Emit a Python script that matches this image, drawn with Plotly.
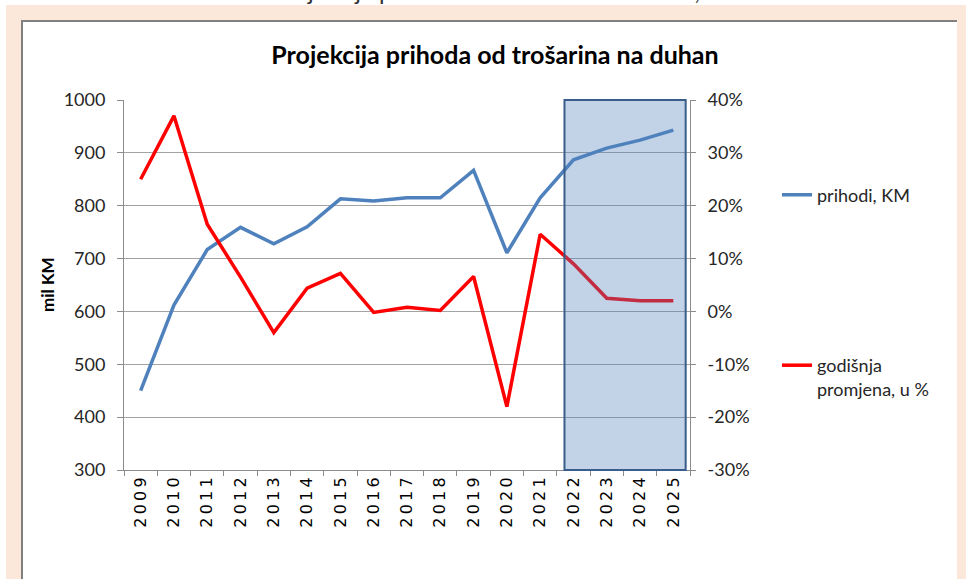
import plotly.graph_objects as go

# ------------------------------- data -------------------------------
godine = [str(g) for g in range(2009, 2026)]
prihodi = [450, 612, 717, 759, 728, 760, 813, 809, 815, 815, 867, 711, 815, 887, 909, 924, 943]
promjena = [25, 37, 16.5, 6.5, -4, 4.4, 7.2, -0.2, 0.8, 0.2, 6.6, -18, 14.6, 9, 2.5, 2, 2]
oznake_godina = ["\u2009".join(g) for g in godine]
postotci = [-30, -20, -10, 0, 10, 20, 30, 40]
oznake_postotaka = [f"{p}%" for p in postotci]   # plain hyphen, as in the original

naslov = "Projekcija prihoda od trošarina na duhan"
nadnaslov = "Grafikon: Projekcija prihoda od trošarina na duhan, 2009-2025"

# ------------------------------- layout helpers -------------------------------
W, H = 966, 579
PL, PR, PT, PB = 124, 690, 100, 470   # plot area in pixels


def px_x(x):
    return (x - PL) / (PR - PL)


def px_y(y):
    return (PB - y) / (PB - PT)


FONT = "Lato"
TXT = "#262626"
GRID = "#A3A3A3"
AXIS = "#8C8C8C"

fig = go.Figure()

fig.add_trace(go.Scatter(
    x=godine, y=prihodi, name="prihodi, KM", mode="lines",
    line=dict(color="#4F81BD", width=3.5), legend="legend"
))

fig.add_trace(go.Scatter(
    x=godine, y=promjena, name="godišnja<br>promjena, u %", mode="lines",
    line=dict(color="#FF0000", width=3.5), yaxis="y2", legend="legend2"
))

shapes = [
    # peach frame
    dict(type="rect", xref="paper", yref="paper", layer="below",
         x0=px_x(6), x1=px_x(W + 10), y0=px_y(5), y1=px_y(H + 10),
         fillcolor="#FCE8DA", line=dict(width=0)),
    # white panel
    dict(type="rect", xref="paper", yref="paper", layer="below",
         x0=px_x(21), x1=px_x(957), y0=px_y(20), y1=px_y(H + 10),
         fillcolor="white", line=dict(width=0)),
    dict(type="line", xref="paper", yref="paper", layer="below",
         x0=px_x(21), x1=px_x(957), y0=px_y(21), y1=px_y(21),
         line=dict(color="#808080", width=2)),
    dict(type="line", xref="paper", yref="paper", layer="below",
         x0=px_x(22), x1=px_x(22), y0=px_y(20), y1=px_y(H + 10),
         line=dict(color="#808080", width=2)),
    # projection period highlight
    dict(type="rect", xref="x", yref="paper", layer="above",
         x0=12.73, x1=16.37, y0=0, y1=1,
         fillcolor="rgba(79,129,189,0.35)", line=dict(color="#385D8A", width=2)),
]

annotations = [
    # caption above the frame, mostly cut off by the page edge as in the original
    dict(text=nadnaslov, xref="paper", yref="paper", x=px_x(498), y=px_y(7),
         xanchor="center", yanchor="bottom", showarrow=False,
         font=dict(family=FONT, size=24, color="#333333")),
    dict(text="<b>mil KM</b>", xref="paper", yref="paper", x=px_x(47), y=0.5,
         xanchor="center", yanchor="middle", textangle=-90, showarrow=False,
         font=dict(family=FONT, size=17, color="#000000")),
]

fig.update_layout(
    width=W, height=H,
    margin=dict(l=PL, r=W - PR, t=PT, b=H - PB, autoexpand=False),
    paper_bgcolor="white",
    plot_bgcolor="rgba(0,0,0,0)",
    font=dict(family=FONT, size=18, color=TXT),
    title=dict(text="<b>" + naslov + "</b>", xref="paper", x=px_x(495), xanchor="center",
               yref="container", y=1 - 55 / H, yanchor="middle",
               font=dict(family=FONT, size=25, color="#000000")),
    shapes=shapes,
    annotations=annotations,
    xaxis=dict(
        type="category", range=[-0.5, len(godine) - 0.5],
        showline=True, linecolor=AXIS, linewidth=1,
        ticks="outside", tickson="boundaries", ticklen=5, tickcolor=AXIS,
        tickangle=-90, tickvals=godine, ticktext=oznake_godina,
        tickfont=dict(family="DejaVu Sans", size=16, color="#000000"),
        showgrid=False, zeroline=False,
    ),
    yaxis=dict(
        range=[300, 1000], dtick=100, showgrid=True, gridcolor=GRID, gridwidth=1,
        showline=True, linecolor=AXIS, ticks="outside", ticklen=6, tickcolor=AXIS,
        ticklabelstandoff=8, zeroline=False,
        tickfont=dict(family=FONT, size=18, color=TXT),
    ),
    yaxis2=dict(
        range=[-30, 40], tickvals=postotci, ticktext=oznake_postotaka,
        overlaying="y", side="right",
        showgrid=False, showline=True, linecolor=AXIS, ticks="outside", ticklen=5,
        tickcolor=AXIS, ticklabelstandoff=8, zeroline=False,
        tickfont=dict(family=FONT, size=18, color=TXT),
    ),
    showlegend=True,
    legend=dict(x=px_x(777), y=px_y(195), xanchor="left", yanchor="middle",
                bgcolor="rgba(0,0,0,0)", font=dict(family=FONT, size=18, color=TXT)),
    legend2=dict(x=px_x(777), y=px_y(347), xanchor="left", yanchor="top",
                 valign="top", bgcolor="rgba(0,0,0,0)",
                 font=dict(family=FONT, size=18, color=TXT)),
)

# page body has a default 8px margin; drop it so the figure sits at the window corner
fig.write_html("out.html", config={"displayModeBar": False},
               post_script="document.body.style.margin='0';")
